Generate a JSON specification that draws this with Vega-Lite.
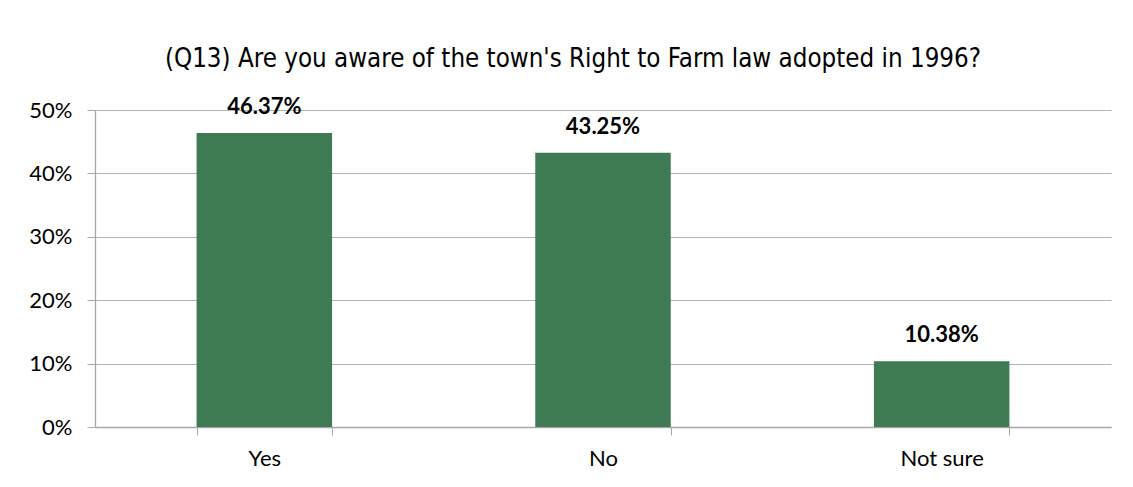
{
  "$schema": "https://vega.github.io/schema/vega-lite/v6.json",
  "autosize": "none",
  "width": 1016,
  "height": 317,
  "padding": {"left": 95, "top": 110, "right": 22, "bottom": 60},
  "background": "white",
  "config": {"view": {"stroke": null}},
  "title": {
    "text": "(Q13) Are you aware of the town's Right to Farm law adopted in 1996?",
    "font": "DejaVu Sans Condensed",
    "fontSize": 25.7,
    "fontWeight": "normal",
    "color": "#000000",
    "anchor": "middle",
    "dx": -30,
    "offset": 23
  },
  "data": {
    "values": [
      {"answer": "Yes", "pct": 0.4637},
      {"answer": "No", "pct": 0.4325},
      {"answer": "Not sure", "pct": 0.1038}
    ]
  },
  "encoding": {
    "x": {
      "field": "answer",
      "type": "nominal",
      "sort": null,
      "scale": {"paddingInner": 0.6, "paddingOuter": 0.3},
      "axis": {
        "title": null,
        "labelAngle": 0,
        "labelFont": "Lato",
        "labelFontSize": 22,
        "labelColor": "#000000",
        "labelPadding": 13,
        "domainColor": "#a6a6a6",
        "domainWidth": 1.3,
        "tickColor": "#a6a6a6",
        "tickSize": 8,
        "tickBand": "extent",
        "grid": false
      }
    },
    "y": {
      "field": "pct",
      "type": "quantitative",
      "scale": {"domain": [0, 0.5]},
      "axis": {
        "title": null,
        "format": ".0%",
        "values": [0, 0.1, 0.2, 0.3, 0.4, 0.5],
        "labelFont": "Lato",
        "labelFontSize": 22,
        "labelColor": "#000000",
        "labelPadding": 15,
        "labelOverlap": false,
        "domainColor": "#a6a6a6",
        "domainWidth": 1.3,
        "tickColor": "#a6a6a6",
        "tickSize": 8,
        "gridColor": "#b3b3b3",
        "gridWidth": 1
      }
    }
  },
  "layer": [
    {"mark": {"type": "bar", "color": "#3e7a53"}},
    {
      "mark": {
        "type": "text",
        "baseline": "alphabetic",
        "dy": -19,
        "font": "Lato",
        "fontSize": 22,
        "fontWeight": "bold",
        "color": "#000000"
      },
      "encoding": {"text": {"field": "pct", "format": ".2%"}}
    }
  ]
}
